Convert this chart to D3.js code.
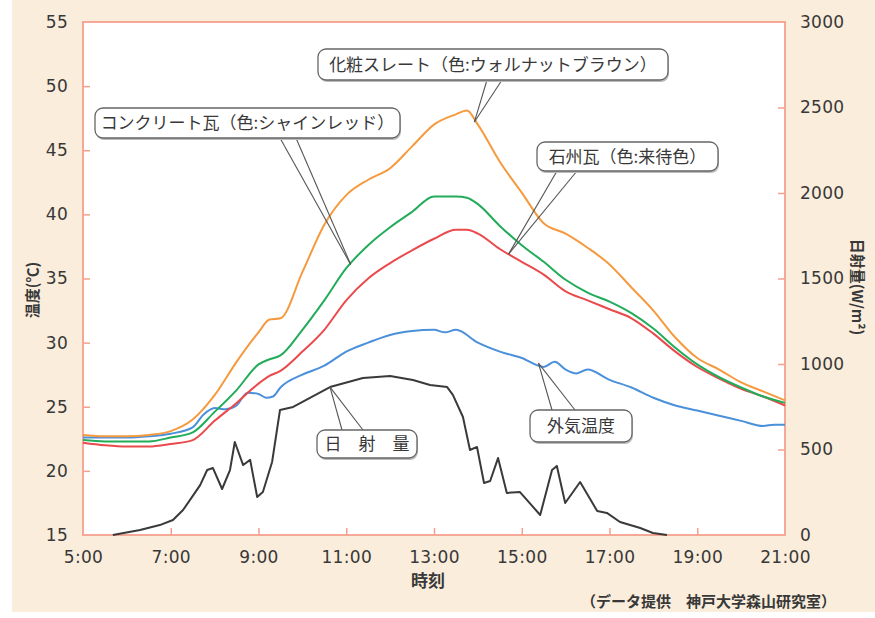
<!DOCTYPE html>
<html>
<head>
<meta charset="utf-8">
<script src="https://cdn.jsdelivr.net/npm/d3@7"></script>
<style>
  body { margin: 0; background: #fff; }
  text { fill: #383838; }
</style>
</head>
<body>
<script>
// 時刻 (decimal hours)
var timeRoof = [5,5.5,6,6.5,7,7.5,8,8.5,9,9.25,9.5,10,10.5,11,11.5,12,12.5,13,13.5,13.75,14,14.5,15,15.5,16,16.5,17,17.5,18,18.5,19,19.5,20,20.5,21];
var slate    = [22.8,22.7,22.7,22.8,23.1,24.0,25.9,28.5,30.8,31.8,31.9,35.5,39.2,41.5,42.7,43.6,45.3,47.0,47.8,48.1,47.0,44.1,41.7,39.3,38.5,37.4,36.1,34.3,32.5,30.4,28.8,27.9,26.9,26.2,25.5];
var concrete = [22.4,22.3,22.3,22.3,22.6,23.0,24.6,26.3,28.3,28.7,29.0,31.0,33.3,35.8,37.6,39.0,40.2,41.4,41.4,41.3,40.8,39.1,37.6,36.3,34.9,33.9,33.2,32.3,31.1,29.6,28.3,27.3,26.5,25.8,25.3];
var sekishu  = [22.2,22.0,21.9,21.9,22.1,22.4,23.9,25.3,26.8,27.4,27.8,29.3,31.0,33.3,35.0,36.2,37.2,38.1,38.8,38.8,38.5,37.3,36.3,35.3,34.0,33.3,32.6,31.9,30.7,29.3,28.1,27.2,26.4,25.8,25.1];

var timeAir = [5,6,6.5,7,7.5,7.75,8,8.25,8.5,8.75,9,9.17,9.33,9.5,10,10.5,11,11.5,12,12.5,13,13.25,13.5,14,14.5,15,15.5,15.75,16,16.25,16.5,17,17.5,18,18.5,19,19.5,20,20.5,20.75,21];
var airTemp = [22.6,22.6,22.7,22.9,23.4,24.4,24.9,24.8,25.1,26.1,26.0,25.7,25.8,26.5,27.5,28.2,29.3,30.0,30.6,30.9,31.0,30.8,31.0,30.0,29.3,28.8,28.1,28.5,27.9,27.6,27.9,27.1,26.5,25.7,25.1,24.7,24.3,23.9,23.5,23.6,23.6];

var timeSun = [5.68,6.3,6.75,7.05,7.28,7.44,7.67,7.83,7.96,8.17,8.35,8.46,8.65,8.81,8.97,9.1,9.31,9.49,9.79,10.63,11.38,12.0,12.52,12.91,13.3,13.43,13.66,13.82,13.98,14.14,14.28,14.46,14.66,14.96,15.42,15.69,15.8,15.99,16.33,16.72,16.94,17.24,17.7,17.99,18.31];
var sun = [0,29,58,88,146,205,292,380,392,269,380,544,409,439,222,251,427,731,749,865,918,930,906,877,865,819,690,497,515,304,316,450,246,251,117,380,404,187,310,140,129,76,41,12,0];

var hourTicks = [5,7,9,11,13,15,17,19,21];
var tempTicks = [15,20,25,30,35,40,45,50,55];
var sunTicks = [0,500,1000,1500,2000,2500,3000];

var W = 875, H = 618;
var pL = 83, pR = 785, pT = 22, pB = 535;

var svg = d3.select("body").append("svg")
  .attr("width", W)
  .attr("height", H)

// beige panel
svg.append("rect").attr("x", 12).attr("y", 0).attr("width", W - 12).attr("height", 612).attr("fill", "#faeddc")
svg.append("rect").attr("x", pL).attr("y", pT).attr("width", pR - pL).attr("height", pB - pT).attr("fill", "#fff")

var x = d3.scaleLinear().domain([5, 21]).range([pL, pR]);
var y = d3.scaleLinear().domain([15, 55]).range([pB, pT]);
var yR = d3.scaleLinear().domain([0, 3000]).range([pB, pT]);

var axisColor = "#f5a08e";
var tickFont = "'DejaVu Sans', sans-serif";

// axes (ticks point inward)
var gl = svg.append("g").attr("transform", "translate(" + pL + ",0)")
  .call(d3.axisLeft(y).tickValues(tempTicks).tickSize(-7).tickPadding(15));
var gr = svg.append("g").attr("transform", "translate(" + pR + ",0)")
  .call(d3.axisRight(yR).tickValues(sunTicks).tickSize(-7).tickPadding(15).tickFormat(d3.format("d")));
var gb = svg.append("g").attr("transform", "translate(0," + pB + ")")
  .call(d3.axisBottom(x).tickValues(hourTicks).tickSize(-7).tickPadding(16)
    .tickFormat(function(d) { return d + ":00"; }));

[gl, gr, gb].forEach(function(g) {
  g.select(".domain").remove();
  g.selectAll(".tick line").attr("stroke", axisColor).attr("stroke-width", 1.5);
  g.selectAll(".tick text").attr("font-family", tickFont).attr("font-size", 17)
    .attr("fill", "#383838").style("letter-spacing", "0.3px");
});
gl.selectAll(".tick line").filter(function(d) { return d == 15 || d == 55; }).remove();
gr.selectAll(".tick line").filter(function(d) { return d == 0 || d == 3000; }).remove();
gb.selectAll(".tick line").filter(function(d) { return d == 5 || d == 21; }).remove();
gb.selectAll(".tick text").attr("dy", "0.72em");

// frame
svg.append("rect").attr("x", pL).attr("y", pT).attr("width", pR - pL).attr("height", pB - pT)
  .attr("fill", "none").attr("stroke", axisColor).attr("stroke-width", 1.8)

// lines
var lineT = d3.line().x(function(d) { return x(d[0]); }).y(function(d) { return y(d[1]); }).curve(d3.curveMonotoneX);
var lineS = d3.line().x(function(d) { return x(d[0]); }).y(function(d) { return yR(d[1]); });

svg.append("path").attr("d", lineS(d3.zip(timeSun, sun))).attr("fill", "none").attr("stroke", "#3a3a3a").attr("stroke-width", 2).attr("stroke-linejoin", "round")
svg.append("path").attr("d", lineT(d3.zip(timeAir, airTemp))).attr("fill", "none").attr("stroke", "#4a90db").attr("stroke-width", 2)
svg.append("path").attr("d", lineT(d3.zip(timeRoof, sekishu))).attr("fill", "none").attr("stroke", "#eb4a4c").attr("stroke-width", 2)
svg.append("path").attr("d", lineT(d3.zip(timeRoof, concrete))).attr("fill", "none").attr("stroke", "#22ac5a").attr("stroke-width", 2)
svg.append("path").attr("d", lineT(d3.zip(timeRoof, slate))).attr("fill", "none").attr("stroke", "#f59a3e").attr("stroke-width", 2)

// callouts
var callouts = [
  {text: "化粧スレート（色:ウォルナットブラウン）", box: [318, 49, 350, 31], from: [487, 502], fy: 80, to: [13.92, 47.2, "T"]},
  {text: "コンクリート瓦（色:シャインレッド）", box: [95, 108, 305, 30], from: [280, 296], fy: 138, to: [11.1, 36.1, "T"]},
  {text: "石州瓦（色:来待色）", box: [537, 142, 181, 29], from: [557, 577], fy: 171, to: [14.7, 36.9, "T"]},
  {text: "外気温度", box: [530, 410, 102, 32], from: [552, 575], fy: 410, to: [15.38, 28.4, "T"]},
  {text: "日　射　量", box: [317, 430, 100, 28], from: [342, 363], fy: 430, to: [10.63, 865, "S"]}
];

callouts.forEach(function(c) {
  var px = x(c.to[0]);
  var py = c.to[2] == "T" ? y(c.to[1]) : yR(c.to[1]);
  c.from.forEach(function(fx) {
    svg.append("line").attr("x1", fx).attr("y1", c.fy).attr("x2", px).attr("y2", py)
      .attr("stroke", "#555").attr("stroke-width", 1.1)
  });
  svg.append("rect").attr("x", c.box[0] + 1).attr("y", c.box[1] + 2).attr("width", c.box[2]).attr("height", c.box[3])
    .attr("rx", 8).attr("fill", "#bbb")
  svg.append("rect").attr("x", c.box[0]).attr("y", c.box[1]).attr("width", c.box[2]).attr("height", c.box[3])
    .attr("rx", 8).attr("fill", "#fff").attr("stroke", "#666").attr("stroke-width", 1.3)
  svg.append("text").attr("x", c.box[0] + c.box[2] / 2).attr("y", c.box[1] + c.box[3] / 2)
    .attr("dy", "0.36em").attr("text-anchor", "middle")
    .attr("font-family", "'Noto Sans CJK JP', sans-serif").attr("font-size", 17)
    .text(c.text)
});

// axis titles
svg.append("text").attr("transform", "translate(38,290) rotate(-90)").attr("text-anchor", "middle")
  .attr("font-family", "'Noto Sans CJK JP', sans-serif").attr("font-size", 15).attr("font-weight", "bold")
  .text("温度(℃)")
svg.append("text").attr("transform", "translate(852,287) rotate(90)").attr("text-anchor", "middle")
  .attr("font-family", "'Noto Sans CJK JP', sans-serif").attr("font-size", 15).attr("font-weight", "bold")
  .text("日射量(W/m²)")
svg.append("text").attr("x", 428).attr("y", 587).attr("text-anchor", "middle")
  .attr("font-family", "'Noto Sans CJK JP', sans-serif").attr("font-size", 17).attr("font-weight", "bold")
  .text("時刻")
svg.append("text").attr("x", 836).attr("y", 607).attr("text-anchor", "end")
  .attr("font-family", "'Noto Sans CJK JP', sans-serif").attr("font-size", 15).attr("font-weight", "bold")
  .text("（データ提供　神戸大学森山研究室）")
</script>
</body>
</html>
